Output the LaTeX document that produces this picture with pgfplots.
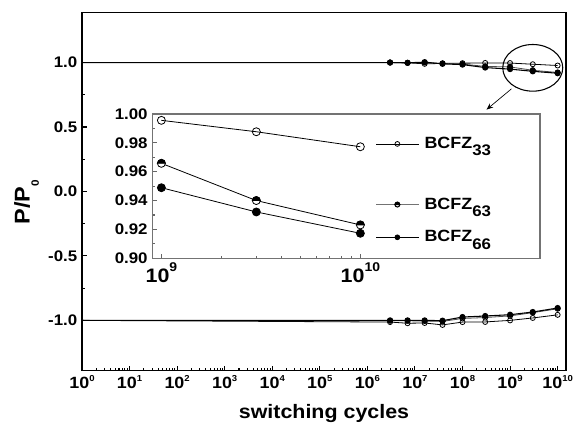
\documentclass[border=0pt]{standalone}
\usepackage{fontspec}
\setmainfont{Liberation Sans}[FakeStretch=1.1]
\usepackage{pgfplots}
\pgfplotsset{compat=1.18}
\usetikzlibrary{arrows.meta}

\newcommand{\fs}[1]{\fontsize{#1}{#1}\selectfont}
\newcommand{\tk}[1]{10\raisebox{5pt}{\fs{6.5}#1}}
\newcommand{\tki}[1]{10\raisebox{8pt}{\fs{9.5}#1}}
\newcommand{\bc}[1]{\hspace{3pt}BCFZ\raisebox{-5.5pt}{\fs{11.5}#1}}

% circle, upper half black, lower half white
\pgfdeclareplotmark{hc}{%
  \pgfpathcircle{\pgfpointorigin}{\pgfplotmarksize}
  \pgfsetfillcolor{white}\pgfusepathqfillstroke
  \pgfpathmoveto{\pgfqpoint{\pgfplotmarksize}{0pt}}
  \pgfpatharc{0}{180}{\pgfplotmarksize}
  \pgfpathclose
  \pgfsetfillcolor{black}\pgfusepathqfillstroke
}

\begin{document}
\begin{tikzpicture}
\begin{axis}[
    name=main,
    at={(0pt,0pt)}, anchor=south west,
    scale only axis,
    width=363pt, height=268.8pt,
    xmode=log,
    xmin=1, xmax=1.5e10,
    ymin=-1.39, ymax=1.39,
    xtickten={0,...,10},
    xticklabels={\tk{0},\tk{1},\tk{2},\tk{3},\tk{4},\tk{5},\tk{6},\tk{7},\tk{8},\tk{9},\tk{10}},
    ytick={-1,-0.5,0,0.5,1},
    minor y tick num=1,
    xtick pos=bottom, ytick pos=left,
    tick align=inside,
    major tick length=3.5pt, minor tick length=2pt,
    tick style={black, line width=0.8pt},
    axis line style={line width=1.1pt},
    /pgf/number format/assume math mode=true,
    yticklabel style={/pgf/number format/fixed, /pgf/number format/precision=1, /pgf/number format/fixed zerofill,
        font=\bfseries\fs{11.5}},
    xticklabel style={font=\bfseries\fs{12.2}},
    xlabel={switching cycles},
    ylabel={P/P\raisebox{-7pt}{\fs{8}0}},
    xlabel style={font=\bfseries\fs{14.6}, yshift=-5pt},
    ylabel style={font=\bfseries\fs{16}, at={(ticklabel cs:0.47)}},
    every mark/.append style={solid},
]
% upper branch
\addplot[black, line width=0.6pt, mark=o, mark size=1.9pt, mark options={fill=white}, mark indices={2,3,4,5,6,7,8,9,10}] coordinates {
(1,1.0) (3e6,1.0) (7e6,0.998) (1.6e7,0.990) (3.8e7,0.993) (1e8,0.995) (3e8,0.997) (1e9,0.996) (3e9,0.987) (1e10,0.977)};
\addplot[black!70, line width=0.6pt, mark=hc, mark size=1.9pt, mark options={draw=black}, mark indices={2,3,4,5,6,7,8,9,10}] coordinates {
(1,1.0) (3e6,1.0) (7e6,0.997) (1.6e7,1.0) (3.8e7,0.993) (1e8,0.988) (3e8,0.970) (1e9,0.966) (3e9,0.940) (1e10,0.923)};
\addplot[black, line width=0.8pt, mark=*, mark size=1.9pt, mark indices={2,3,4,5,6,7,8,9,10}] coordinates {
(1,1.0) (3e6,1.0) (7e6,0.998) (1.6e7,1.003) (3.8e7,0.990) (1e8,0.984) (3e8,0.961) (1e9,0.949) (3e9,0.932) (1e10,0.917)};
% lower branch
\addplot[black, line width=0.6pt, mark=o, mark size=1.9pt, mark options={fill=white}, mark indices={2,3,4,5,6,7,8,9,10}] coordinates {
(1,-1.0) (3e6,-1.013) (7e6,-1.022) (1.6e7,-1.020) (3.8e7,-1.035) (1e8,-1.013) (3e8,-1.012) (1e9,-1.0) (3e9,-0.981) (1e10,-0.957)};
\addplot[black!70, line width=0.6pt, mark=hc, mark size=1.9pt, mark options={draw=black}, mark indices={2,3,4,5,6,7,8,9,10}] coordinates {
(1,-1.0) (3e6,-1.003) (7e6,-1.003) (1.6e7,-1.005) (3.8e7,-1.008) (1e8,-0.985) (3e8,-0.978) (1e9,-0.965) (3e9,-0.940) (1e10,-0.910)};
\addplot[black, line width=0.8pt, mark=*, mark size=1.9pt, mark indices={2,3,4,5,6,7,8,9,10}] coordinates {
(1,-1.0) (3e6,-1.0) (7e6,-1.0) (1.6e7,-1.0) (3.8e7,-1.002) (1e8,-0.974) (3e8,-0.966) (1e9,-0.956) (3e9,-0.935) (1e10,-0.904)};
% zoom annotation
\draw[line width=0.8pt] (axis cs:3e9,0.959) ellipse [x radius=22.5pt, y radius=17.5pt];
\draw[line width=0.5pt, -{Stealth[length=5pt, width=4pt]}] (axis cs:1.07e9,0.796) -- (axis cs:3.2e8,0.635);
\end{axis}

\begin{axis}[
    at={(52.7pt,84.3pt)}, anchor=south west,
    scale only axis,
    width=290.8pt, height=108.2pt,
    xmode=log,
    xmin=9e8, xmax=8e10,
    ymin=0.9, ymax=1.0,
    xtick={1e9,1e10},
    xticklabels={\tki{9},\tki{10}},
    ytick={0.90,0.92,0.94,0.96,0.98,1.00},
    minor y tick num=1,
    xtick pos=bottom, ytick pos=left,
    tick align=inside,
    major tick length=3.5pt, minor tick length=2pt,
    tick style={black!60, line width=0.8pt},
    axis line style={black!55, line width=1.1pt},
    axis background/.style={fill=white},
    /pgf/number format/assume math mode=true,
    yticklabel style={/pgf/number format/fixed, /pgf/number format/precision=2, /pgf/number format/fixed zerofill,
        font=\bfseries\fs{11.5}},
    xticklabel style={font=\bfseries\fs{14.6}},
    legend style={at={(axis description cs:0.575,0.85)}, anchor=north west, draw=none, fill=none,
        font=\bfseries\fs{12.2}, inner sep=0pt, row sep=12.5pt,
        nodes={inner sep=1pt}},
    legend cell align=left,
    legend image code/.code={\draw[mark repeat=2, mark phase=2, #1] plot coordinates {(0pt,0pt) (16pt,0pt) (32pt,0pt)};},
]
\addplot[black, line width=0.6pt, mark=o, mark size=3pt, mark options={fill=white}, forget plot] coordinates {
(1e9,0.9956) (3e9,0.9877) (1e10,0.9773)};
\addplot[black, line width=0.6pt, mark=hc, mark size=3pt, forget plot] coordinates {
(1e9,0.9658) (3e9,0.9400) (1e10,0.9231)};
\addplot[black, line width=0.6pt, mark=*, mark size=3pt, forget plot] coordinates {
(1e9,0.9489) (3e9,0.9321) (1e10,0.9173)};
\addlegendimage{black, line width=0.6pt, mark=o, mark size=1.8pt, mark options={fill=white}}
\addlegendentry{\bc{33}}
\addlegendimage{empty legend}
\addlegendentry{\rule{0pt}{5pt}}
\addlegendimage{black!55, line width=0.8pt, mark=hc, mark size=1.8pt, mark options={draw=black}}
\addlegendentry{\bc{63}}
\addlegendimage{black, line width=0.6pt, mark=*, mark size=1.8pt}
\addlegendentry{\bc{66}}
\end{axis}
\pgfresetboundingbox
\path[use as bounding box] (-61.5pt,-40.7pt) rectangle (369pt,278pt);
\end{tikzpicture}
\end{document}
